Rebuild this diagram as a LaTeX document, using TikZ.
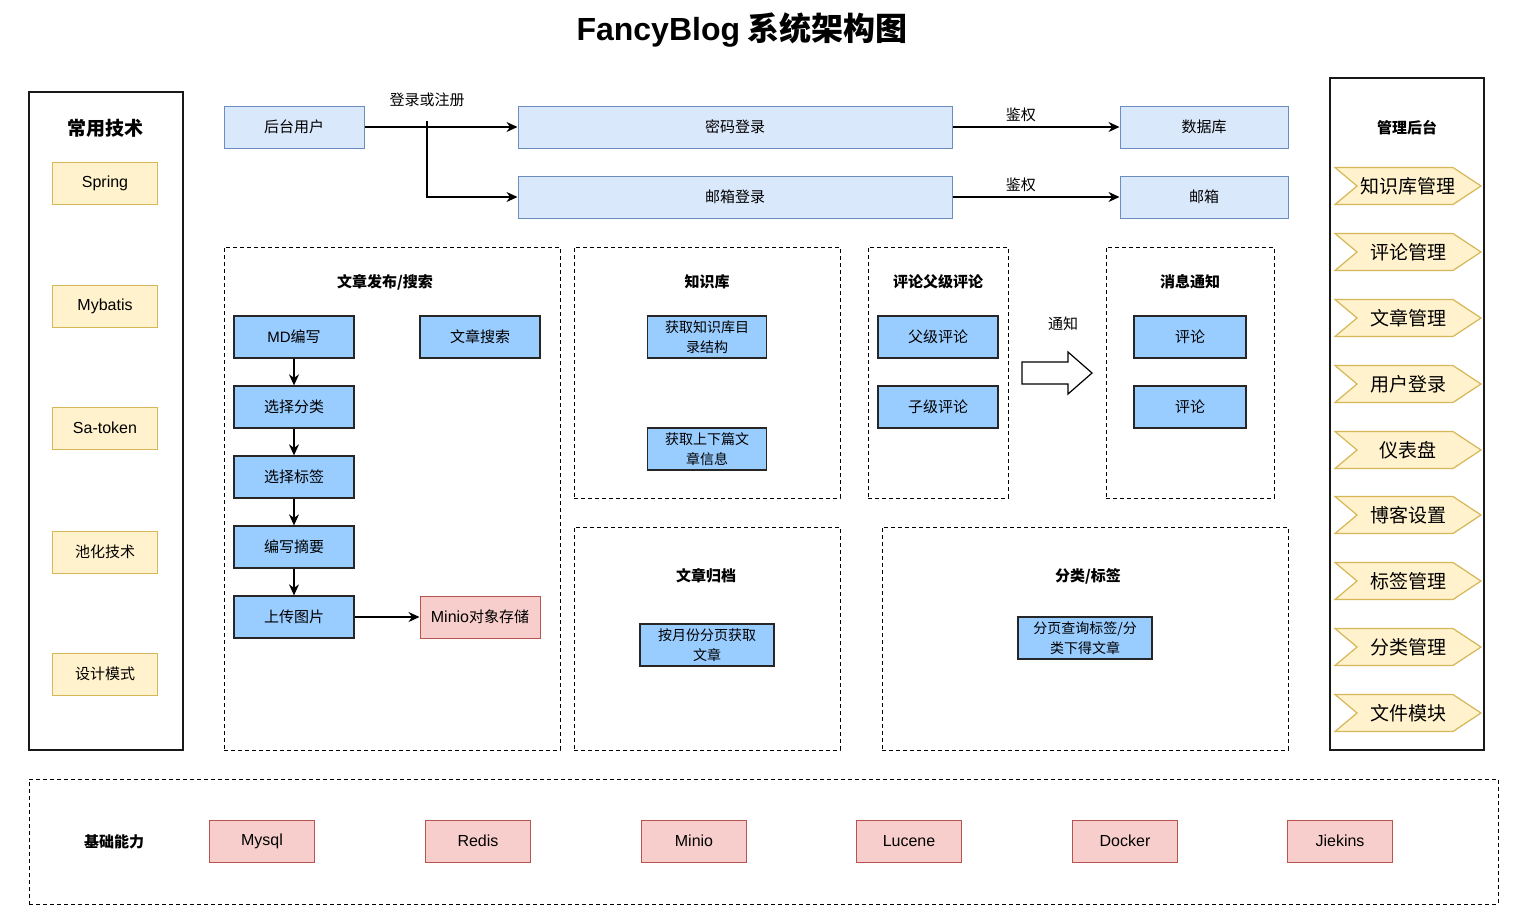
\documentclass[tikz,border=0pt]{standalone}
\usepackage{fontspec}
\setmainfont{Noto Sans CJK SC}
\newfontfamily\arial{Liberation Sans}
\usetikzlibrary{arrows.meta,positioning}
\definecolor{FillLogin}{RGB}{218,232,252}
\definecolor{DrawLogin}{RGB}{108,142,191}
\definecolor{FillStep}{RGB}{153,204,255}
\definecolor{FillTech}{RGB}{255,242,204}
\definecolor{DrawTech}{RGB}{214,182,86}
\definecolor{FillBase}{RGB}{248,206,204}
\definecolor{DrawBase}{RGB}{184,84,80}

\begin{document}
\begin{tikzpicture}[x=1pt, y=-1pt, line width=1pt,
            login/.style={draw=DrawLogin, fill=FillLogin, minimum height=42pt, font=\fontsize{15}{20}\selectfont},
            stepbox/.style={draw=black!85, line width=1.3pt, fill=FillStep, minimum width=120pt, minimum height=42pt, align=center, inner sep=2pt, font=\fontsize{15}{20}\selectfont},
            tech/.style={draw=DrawTech, fill=FillTech, minimum width=105pt, minimum height=42pt, font=\fontsize{15}{20}\selectfont},
            base/.style={draw=DrawBase, fill=FillBase, minimum width=105pt, minimum height=42pt, font=\arial\fontsize{16}{20}\selectfont},
            grp/.style={draw, dash pattern=on 4pt off 3pt, inner sep=0pt},
            panel/.style={draw=black!90, line width=1.3pt, inner sep=0pt},
            gtitle/.style={font=\bfseries\fontsize{15}{20}\selectfont},
            lbl/.style={font=\fontsize{15}{20}\selectfont},
            mgr/.style={draw=DrawTech, fill=FillTech, line width=1.2pt},
            arr/.style={-{Stealth[length=11pt, width=10pt]}, line width=1.3pt}
        ]
            \useasboundingbox (0,0) rectangle (1521,919);
            \node[font=\bfseries\fontsize{32}{36}\selectfont] (title) at (742,30) {{\arial FancyBlog} 系统架构图};

            % left panel
            \node[panel, minimum width=154pt, minimum height=658pt] (techpanel) at (106,421) {};
            \node[font=\bfseries\fontsize{19}{24}\selectfont] (techtitle) at (105,128) {常用技术};
            \node[tech, font=\arial\fontsize{16}{20}\selectfont] (spring)  at (105,183) {Spring};
            \node[tech, font=\arial\fontsize{16}{20}\selectfont] (mybatis) at (105,306) {Mybatis};
            \node[tech, font=\arial\fontsize{16}{20}\selectfont] (satoken) at (105,428) {Sa-token};
            \node[tech] (pooling) at (105,552) {池化技术};
            \node[tech] (pattern) at (105,674) {设计模式};

            % login
            \node[login, minimum width=140pt] (backuser)  at (294,127)  {后台用户};
            \node[login, minimum width=434pt] (pwdlogin)  at (735,127)  {密码登录};
            \node[login, minimum width=434pt] (maillogin) at (735,197)  {邮箱登录};
            \node[login, minimum width=168pt] (database)  at (1204,127) {数据库};
            \node[login, minimum width=168pt] (mailbox)   at (1204,197) {邮箱};
            \coordinate (fork) at (427,121);
            \draw[arr] (backuser) -- (pwdlogin);
            \draw[arr] (fork) |- (maillogin);
            \node[lbl] (regtext) at (427,100) {登录或注册};
            \draw[arr] (pwdlogin)  -- node[lbl, above=1pt, pos=0.41] (auth1) {鉴权} (database);
            \draw[arr] (maillogin) -- node[lbl, above=1pt, pos=0.41] (auth2) {鉴权} (mailbox);

            % article publish / search
            \node[grp, minimum width=336pt, minimum height=503pt] (pubgrp) at (392,498.5) {};
            \node[gtitle] (pubtitle) at (385,282) {文章发布/搜索};
            \node[stepbox] (mdwrite)  at (294,337) {{\arial MD}编写};
            \node[stepbox] (search)   at (480,337) {文章搜索};
            \node[stepbox] (pickcat)  at (294,407) {选择分类};
            \node[stepbox] (picktag)  at (294,477) {选择标签};
            \node[stepbox] (summary)  at (294,547) {编写摘要};
            \node[stepbox] (upload)   at (294,617) {上传图片};
            \node[base, minimum width=120pt, font=\fontsize{15}{20}\selectfont] (minio) at (480,617) {{\arial\fontsize{16}{20}\selectfont Minio}对象存储};
            \draw[arr] (mdwrite) -- (pickcat);
            \draw[arr] (pickcat) -- (picktag);
            \draw[arr] (picktag) -- (summary);
            \draw[arr] (summary) -- (upload);
            \draw[arr] (upload)  -- (minio);

            % knowledge base
            \node[grp, minimum width=266pt, minimum height=251pt] (kbgrp) at (707,372.5) {};
            \node[gtitle] (kbtitle) at (707,282) {知识库};
            \node[stepbox, minimum width=119pt, font=\fontsize{14}{20}\selectfont] (kbtree) at (707,337) {获取知识库目\\录结构};
            \node[stepbox, minimum width=119pt, font=\fontsize{14}{20}\selectfont] (kbnext) at (707,449) {获取上下篇文\\章信息};

            % comments
            \node[grp, minimum width=140pt, minimum height=251pt] (cmtgrp) at (938,372.5) {};
            \node[gtitle] (cmttitle) at (938,282) {评论父级评论};
            \node[stepbox] (parentcmt) at (938,337) {父级评论};
            \node[stepbox] (childcmt)  at (938,407) {子级评论};

            % notify arrow
            \draw[fill=white, line width=1.2pt] (1022,362) -- (1068,362) -- (1068,352) -- (1092,373) -- (1068,394) -- (1068,384) -- (1022,384) -- cycle;
            \node[lbl] (notifytext) at (1063,324) {通知};

            % messages
            \node[grp, minimum width=168pt, minimum height=251pt] (msggrp) at (1190,372.5) {};
            \node[gtitle] (msgtitle) at (1190,282) {消息通知};
            \node[stepbox, minimum width=112pt] (msgcmt1) at (1190,337) {评论};
            \node[stepbox, minimum width=112pt] (msgcmt2) at (1190,407) {评论};

            % archive
            \node[grp, minimum width=266pt, minimum height=223pt] (archgrp) at (707,638.5) {};
            \node[gtitle] (archtitle) at (706,576) {文章归档};
            \node[stepbox, minimum width=134pt, font=\fontsize{14}{20}\selectfont] (bymonth) at (707,645) {按月份分页获取\\文章};

            % category / tag
            \node[grp, minimum width=406pt, minimum height=223pt] (catgrp) at (1085,638.5) {};
            \node[gtitle] (cattitle) at (1088,576) {分类/标签};
            \node[stepbox, minimum width=134pt, font=\fontsize{14}{20}\selectfont] (bycat) at (1085,638) {分页查询标签/分\\类下得文章};

            % admin panel
            \node[panel, minimum width=154pt, minimum height=672pt] (mgrpanel) at (1407,414) {};
            \node[gtitle] (mgrtitle) at (1407,128) {管理后台};
            \foreach \y/\txt [count=\i] in {186/知识库管理, 252/评论管理, 318/文章管理, 384/用户登录, 450/仪表盘, 515/博客设置, 581/标签管理, 647/分类管理, 713/文件模块} {
                \draw[mgr] (1335,\y-18.5) -- (1453,\y-18.5) -- (1481,\y) -- (1453,\y+18.5) -- (1335,\y+18.5) -- (1357,\y) -- cycle;
                \node[font=\fontsize{19}{22}\selectfont] (mgr\i) at (1408,\y) {\txt};
            }

            % base
            \node[grp, minimum width=1469pt, minimum height=125pt] (basegrp) at (763.5,841.5) {};
            \node[gtitle] (basetitle) at (114,842) {基础能力};
            \node[base] (mysql)   at (262,841)  {Mysql};
            \node[base] (redis)   at (478,841)  {Redis};
            \node[base] (miniob)  at (694,841)  {Minio};
            \node[base] (lucene)  at (909,841)  {Lucene};
            \node[base] (docker)  at (1125,841) {Docker};
            \node[base] (jiekins) at (1340,841) {Jiekins};
        \end{tikzpicture}
\end{document}
